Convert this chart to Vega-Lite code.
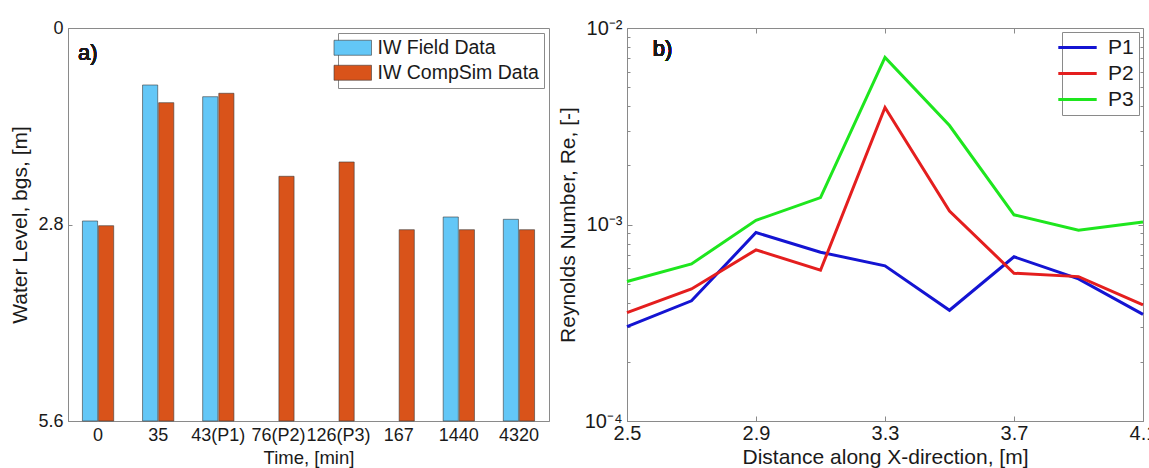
{
  "$schema": "https://vega.github.io/schema/vega-lite/v6.json",
  "background": "white",
  "padding": {"left": 9, "top": 17, "right": 0, "bottom": 0},
  "spacing": 78,
  "bounds": "flush",
  "resolve": {"scale": {"color": "independent"}, "legend": {"color": "independent"}},
  "datasets": {
    "bars": [
      {"time": "0", "series": "IW Field Data", "level": 2.75},
      {"time": "0", "series": "IW CompSim Data", "level": 2.817},
      {"time": "35", "series": "IW Field Data", "level": 0.812},
      {"time": "35", "series": "IW CompSim Data", "level": 1.064},
      {"time": "43(P1)", "series": "IW Field Data", "level": 0.979},
      {"time": "43(P1)", "series": "IW CompSim Data", "level": 0.93},
      {"time": "76(P2)", "series": "IW CompSim Data", "level": 2.113},
      {"time": "126(P3)", "series": "IW CompSim Data", "level": 1.909},
      {"time": "167", "series": "IW CompSim Data", "level": 2.874},
      {"time": "1440", "series": "IW Field Data", "level": 2.693},
      {"time": "1440", "series": "IW CompSim Data", "level": 2.874},
      {"time": "4320", "series": "IW Field Data", "level": 2.726},
      {"time": "4320", "series": "IW CompSim Data", "level": 2.874}
    ],
    "re": [
      {"x": 2.5, "series": "P1", "re": 0.000302},
      {"x": 2.7, "series": "P1", "re": 0.000409},
      {"x": 2.9, "series": "P1", "re": 0.00091},
      {"x": 3.1, "series": "P1", "re": 0.000723},
      {"x": 3.3, "series": "P1", "re": 0.000616},
      {"x": 3.5, "series": "P1", "re": 0.000366},
      {"x": 3.7, "series": "P1", "re": 0.000685},
      {"x": 3.9, "series": "P1", "re": 0.000529},
      {"x": 4.1, "series": "P1", "re": 0.000349},
      {"x": 2.5, "series": "P2", "re": 0.000356},
      {"x": 2.7, "series": "P2", "re": 0.00047},
      {"x": 2.9, "series": "P2", "re": 0.000743},
      {"x": 3.1, "series": "P2", "re": 0.000585},
      {"x": 3.3, "series": "P2", "re": 0.00394},
      {"x": 3.5, "series": "P2", "re": 0.00117},
      {"x": 3.7, "series": "P2", "re": 0.000565},
      {"x": 3.9, "series": "P2", "re": 0.000543},
      {"x": 4.1, "series": "P2", "re": 0.00039},
      {"x": 2.5, "series": "P3", "re": 0.000513},
      {"x": 2.7, "series": "P3", "re": 0.00063},
      {"x": 2.9, "series": "P3", "re": 0.00105},
      {"x": 3.1, "series": "P3", "re": 0.00137},
      {"x": 3.3, "series": "P3", "re": 0.00709},
      {"x": 3.5, "series": "P3", "re": 0.00319},
      {"x": 3.7, "series": "P3", "re": 0.00112},
      {"x": 3.9, "series": "P3", "re": 0.000936},
      {"x": 4.1, "series": "P3", "re": 0.00103}
    ]
  },
  "hconcat": [
    {
      "width": 481,
      "height": 393,
      "data": {"name": "bars"},
      "layer": [
        {
          "mark": {"type": "bar", "stroke": "#3a3a3a", "strokeWidth": 0.6},
          "encoding": {
            "x": {
              "field": "time", "type": "nominal",
              "sort": ["0", "35", "43(P1)", "76(P2)", "126(P3)", "167", "1440", "4320"],
              "scale": {"paddingInner": 0.48, "paddingOuter": 0.24},
              "axis": {"title": "Time, [min]", "labelAngle": 0, "ticks": false, "labelPadding": 5, "titlePadding": 4, "labelOverlap": false, "labelFontSize": 18, "titleFontSize": 18.5}
            },
            "xOffset": {
              "field": "series", "type": "nominal",
              "scale": {"domain": ["IW Field Data", "IW CompSim Data"], "paddingInner": 0.06, "paddingOuter": 0}
            },
            "y": {
              "field": "level", "type": "quantitative",
              "scale": {"domain": [0, 5.6], "reverse": true, "nice": false, "zero": false},
              "axis": {"title": "Water Level, bgs, [m]", "values": [0, 2.8, 5.6], "format": "~g", "tickSize": -4, "labelPadding": 9, "titlePadding": 7, "labelFontSize": 18, "titleFontSize": 21}
            },
            "y2": {"datum": 5.6},
            "color": {
              "field": "series", "type": "nominal",
              "scale": {"domain": ["IW Field Data", "IW CompSim Data"], "range": ["#63c7f7", "#d9531a"]},
              "legend": {
                "title": null, "orient": "top-right", "offset": 5,
                "symbolType": "M-2.5,-1H2.5V1H-2.5Z", "symbolSize": 225,
                "symbolStrokeColor": "#3a3a3a", "symbolStrokeWidth": 0.6,
                "labelOffset": 15, "rowPadding": 4, "padding": 5, "labelLimit": 300,
                "fillColor": "white", "strokeColor": "#8a8a8a",
                "labelFontSize": 19.5, "labelColor": "#1a1a1a"
              }
            }
          }
        },
        {
          "mark": {"type": "text", "text": "a)", "font": "Liberation Sans", "fontSize": 22, "fontWeight": 400, "align": "left", "baseline": "middle", "dx": -20, "color": "#1a1a1a"},
          "encoding": {
            "x": {"datum": "0"},
            "y": {"datum": 0.35}
          }
        }
      ]
    },
    {
      "width": 516,
      "height": 393,
      "data": {"name": "re"},
      "layer": [
        {
          "mark": {"type": "line", "strokeWidth": 3},
          "encoding": {
            "x": {
              "field": "x", "type": "quantitative",
              "scale": {"domain": [2.5, 4.1], "nice": false, "zero": false},
              "axis": {"title": "Distance along X-direction, [m]", "values": [2.5, 2.9, 3.3, 3.7, 4.1], "format": ".1f", "labelFlush": false, "labelOverlap": false, "tickSize": -5, "labelPadding": 7, "titlePadding": 3, "labelFontSize": 20, "titleFontSize": 21}
            },
            "y": {
              "field": "re", "type": "quantitative",
              "scale": {"type": "log", "domain": [0.0001, 0.01], "nice": false},
              "axis": {
                "title": "Reynolds Number, Re, [-]",
                "values": [0.0001, 0.0002, 0.0003, 0.0004, 0.0005, 0.0006, 0.0007, 0.0008, 0.0009, 0.001, 0.002, 0.003, 0.004, 0.005, 0.006, 0.007, 0.008, 0.009, 0.01],
                "labelExpr": "datum.value == 0.01 ? '10⁻²' : datum.value == 0.001 ? '10⁻³' : datum.value == 0.0001 ? '10⁻⁴' : ''",
                "labelOverlap": false,
                "labelFlush": false,
                "tickSize": {"condition": {"test": "datum.value == 0.01 || datum.value == 0.001 || datum.value == 0.0001", "value": -5}, "value": -3},
                "labelPadding": 10, "titlePadding": 6, "labelFontSize": 20, "titleFontSize": 21
              }
            },
            "color": {
              "field": "series", "type": "nominal",
              "scale": {"domain": ["P1", "P2", "P3"], "range": ["#1414d2", "#e41e1e", "#1ee61e"]},
              "legend": {
                "title": null, "orient": "top-right", "offset": 4,
                "symbolType": "M-2.4,0H2.4", "symbolSize": 256, "symbolStrokeWidth": 3,
                "labelOffset": 20, "rowPadding": 4, "padding": 5,
                "fillColor": "white", "strokeColor": "#8a8a8a",
                "labelFontSize": 21, "labelColor": "#1a1a1a"
              }
            }
          }
        },
        {
          "mark": {"type": "point", "opacity": 0},
          "encoding": {
            "x": {
              "field": "x", "type": "quantitative",
              "axis": {"orient": "top", "title": null, "labels": false, "domain": false, "values": [2.9, 3.3, 3.7], "tickSize": -5}
            },
            "y": {
              "field": "re", "type": "quantitative",
              "axis": {
                "orient": "right", "title": null, "labels": false, "domain": false,
                "values": [0.0001, 0.0002, 0.0003, 0.0004, 0.0005, 0.0006, 0.0007, 0.0008, 0.0009, 0.001, 0.002, 0.003, 0.004, 0.005, 0.006, 0.007, 0.008, 0.009, 0.01],
                "tickSize": {"condition": {"test": "datum.value == 0.01 || datum.value == 0.001 || datum.value == 0.0001", "value": -5}, "value": -3}
              }
            }
          }
        },
        {
          "mark": {"type": "text", "text": "b)", "font": "Liberation Sans", "fontSize": 22, "fontWeight": 400, "align": "left", "baseline": "middle", "color": "#1a1a1a"},
          "encoding": {
            "x": {"datum": 2.58, "axis": null},
            "y": {"datum": 0.0078, "axis": null}
          }
        }
      ],
      "resolve": {"axis": {"x": "independent", "y": "independent"}}
    }
  ],
  "config": {
    "font": "Liberation Sans",
    "axis": {
      "titleFontWeight": "normal",
      "labelColor": "#1a1a1a", "titleColor": "#1a1a1a",
      "domainColor": "#8a8a8a", "tickColor": "#8a8a8a", "grid": false
    },
    "view": {"stroke": "#8a8a8a", "strokeWidth": 1}
  }
}
